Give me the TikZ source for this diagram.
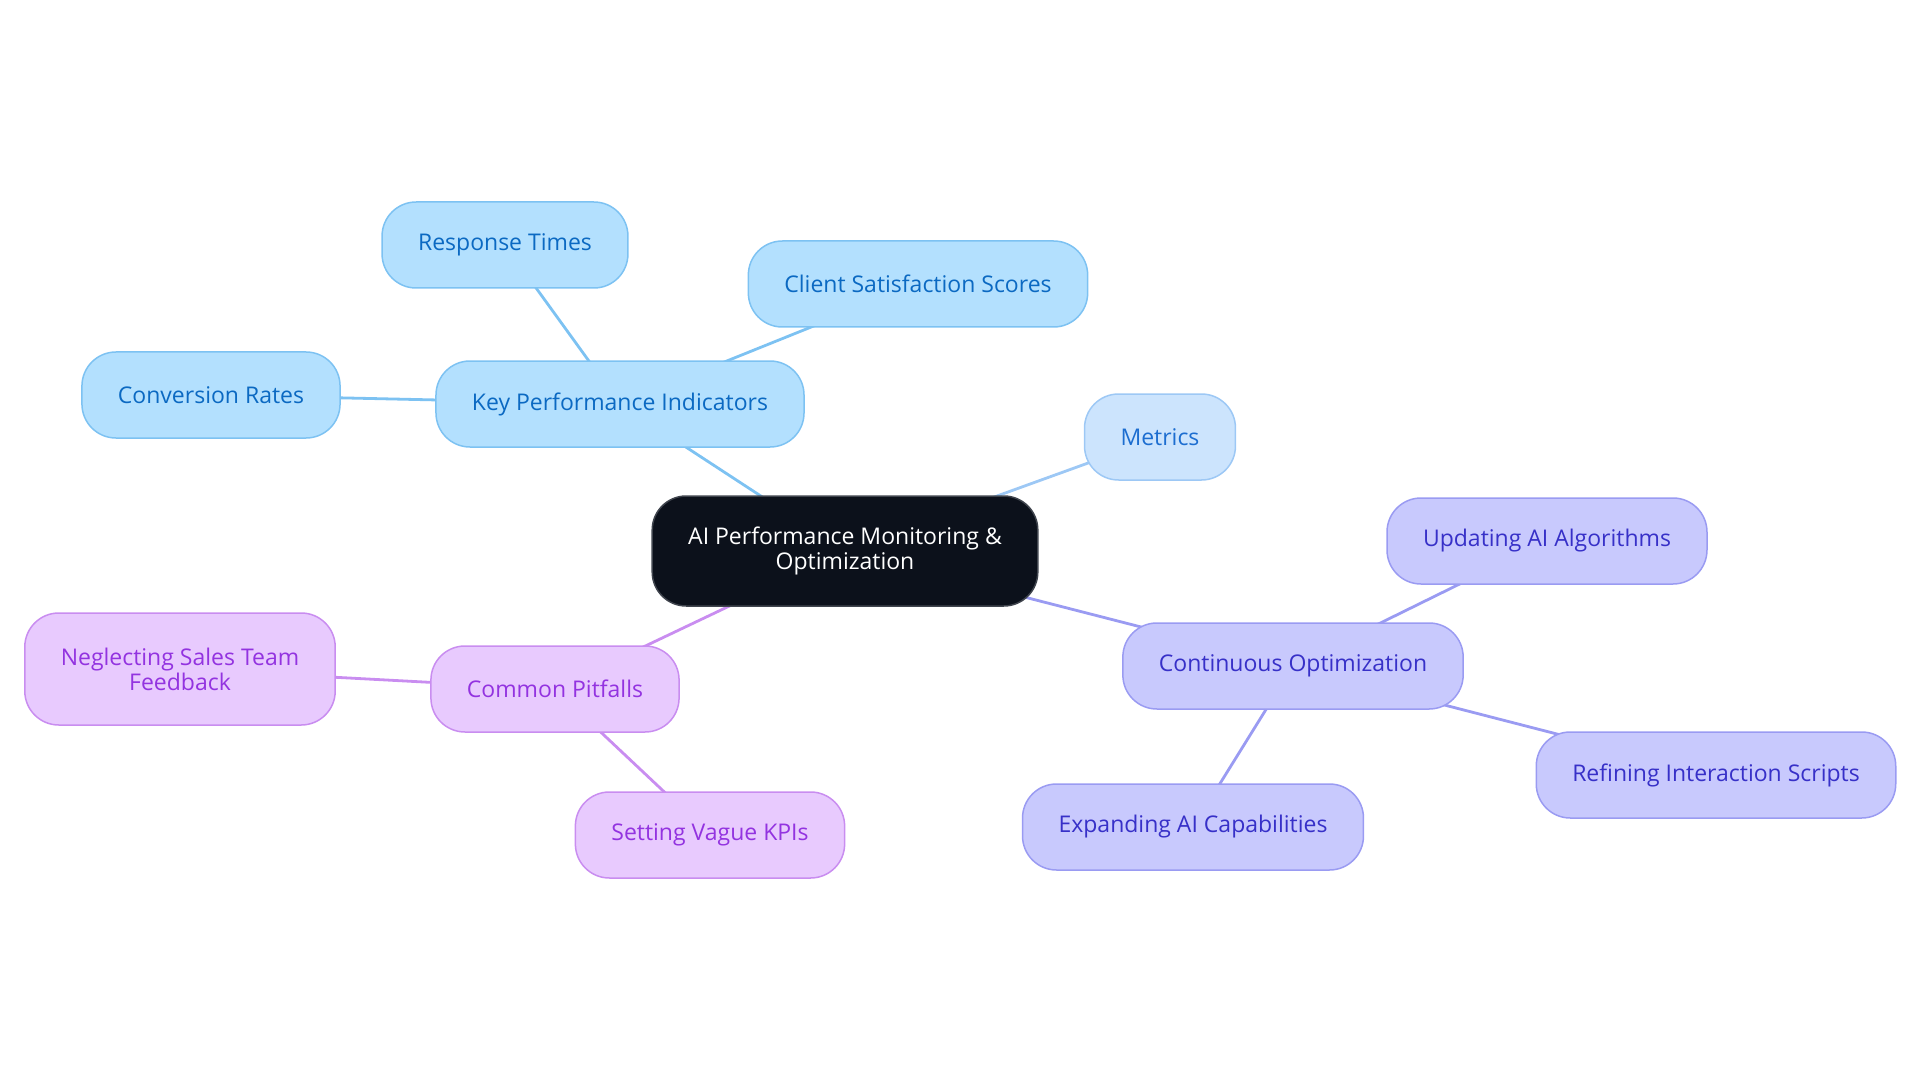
\documentclass[tikz,border=0pt]{standalone}
\usepackage{fontspec}
\setmainfont{Open Sans}
\usepackage{xcolor}
\usepackage{tikz}
\usetikzlibrary{backgrounds}
\definecolor{rootfill}{HTML}{0C111B}
\definecolor{rootdraw}{HTML}{3F444D}
\definecolor{bluefill}{HTML}{B3E0FE}
\definecolor{bluedraw}{HTML}{7DC2F2}
\definecolor{bluetext}{HTML}{0B69C2}
\definecolor{palefill}{HTML}{CCE4FD}
\definecolor{paledraw}{HTML}{9DC8F5}
\definecolor{paletext}{HTML}{1C6DD0}
\definecolor{indigofill}{HTML}{C8C9FD}
\definecolor{indigodraw}{HTML}{9A9BF2}
\definecolor{indigotext}{HTML}{3730C8}
\definecolor{violetfill}{HTML}{E8CAFE}
\definecolor{violetdraw}{HTML}{C98DF0}
\definecolor{violettext}{HTML}{9333E0}
\tikzset{
    treenode/.style = {align=center, inner xsep=36pt, inner ysep=0pt, text centered, rectangle, rounded corners=34pt, minimum height=86pt, line width=1.5pt, font=\fontsize{23pt}{25pt}\selectfont},
    root_node/.style = {treenode, white, draw=rootdraw, fill=rootfill, minimum height=110pt},
    blue_node/.style = {treenode, bluetext, draw=bluedraw, fill=bluefill},
    pale_node/.style = {treenode, paletext, draw=paledraw, fill=palefill},
    indigo_node/.style = {treenode, indigotext, draw=indigodraw, fill=indigofill},
    violet_node/.style = {treenode, violettext, draw=violetdraw, fill=violetfill},
    link/.style = {line width=2.8pt}
}
\begin{document}
\begin{tikzpicture}[x=1pt, y=-1pt]
    \useasboundingbox (0,0) rectangle (1920,1083);

    \node [root_node] (root) at (845,551) {AI Performance Monitoring \&\\Optimization};

    \node [blue_node] (kpi) at (620,404) {Key Performance Indicators};
    \node [blue_node] (response) at (505,245) {Response Times};
    \node [blue_node] (client) at (918,284) {Client Satisfaction Scores};
    \node [blue_node] (conversion) at (211,395) {Conversion Rates};

    \node [pale_node] (metrics) at (1160,437) {Metrics};

    \node [indigo_node] (optim) at (1293,666) {Continuous Optimization};
    \node [indigo_node] (updating) at (1547,541) {Updating AI Algorithms};
    \node [indigo_node] (refining) at (1716,775) {Refining Interaction Scripts};
    \node [indigo_node] (expanding) at (1193,827) {Expanding AI Capabilities};

    \node [violet_node] (pitfalls) at (555,689) {Common Pitfalls};
    \node [violet_node, minimum height=112pt] (neglect) at (180,669) {Neglecting Sales Team\\Feedback};
    \node [violet_node] (vague) at (710,835) {Setting Vague KPIs};

    \begin{scope}[on background layer]
        \draw [link, bluedraw] (root.center) -- (kpi.center);
        \draw [link, bluedraw] (kpi.center) -- (response.center);
        \draw [link, bluedraw] (kpi.center) -- (client.center);
        \draw [link, bluedraw] (kpi.center) -- (conversion.center);
        \draw [link, paledraw] (root.center) -- (metrics.center);
        \draw [link, indigodraw] (root.center) -- (optim.center);
        \draw [link, indigodraw] (optim.center) -- (updating.center);
        \draw [link, indigodraw] (optim.center) -- (refining.center);
        \draw [link, indigodraw] (optim.center) -- (expanding.center);
        \draw [link, violetdraw] (root.center) -- (pitfalls.center);
        \draw [link, violetdraw] (pitfalls.center) -- (neglect.center);
        \draw [link, violetdraw] (pitfalls.center) -- (vague.center);
    \end{scope}
\end{tikzpicture}
\end{document}
